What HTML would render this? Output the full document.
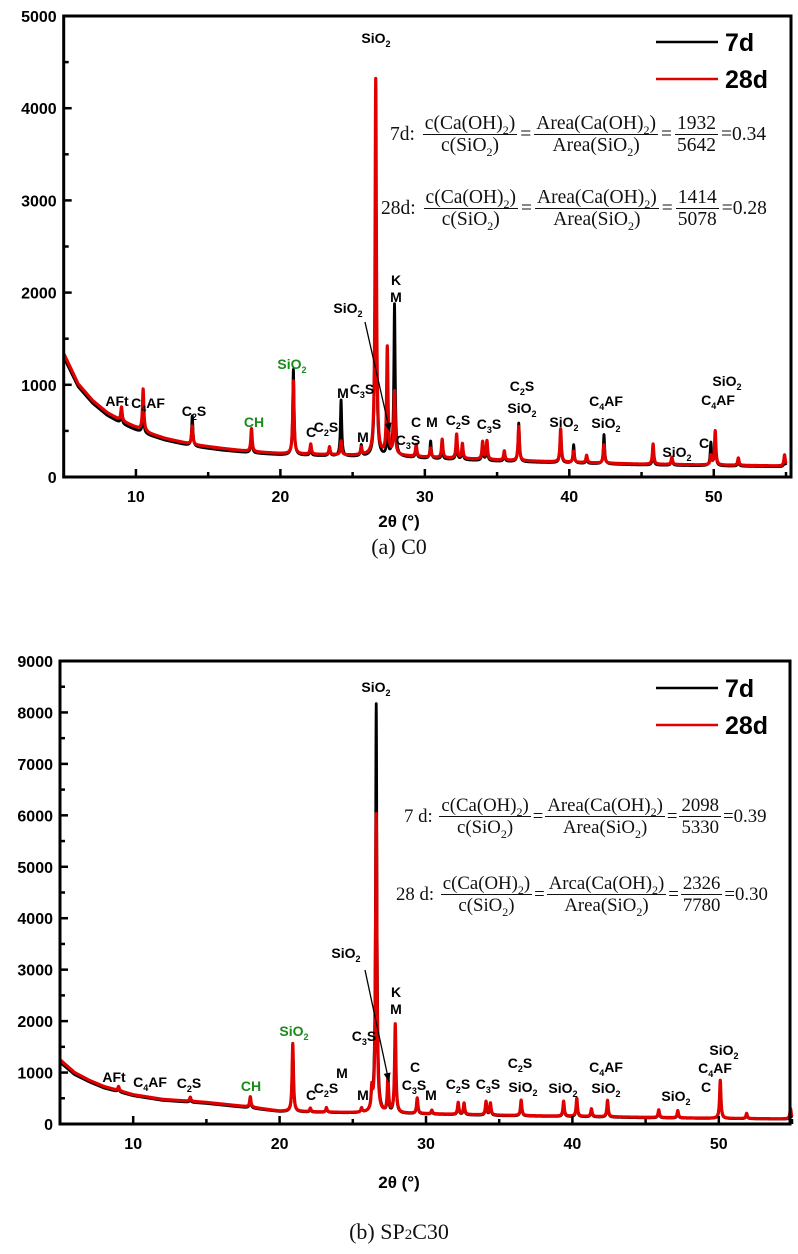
<!DOCTYPE html>
<html><head><meta charset="utf-8"><style>
html,body{margin:0;padding:0;background:#fff;}
#wrap{position:relative;width:798px;height:1254px;overflow:hidden;background:#fff;}
svg{position:absolute;left:0;top:0;}
.eq{position:absolute;font-family:"Liberation Serif",serif;font-size:19.5px;color:#111;display:flex;align-items:center;white-space:nowrap;}
.eq.b{font-size:18.8px;}
.fr{display:inline-flex;flex-direction:column;align-items:center;margin:0 3px;}
.eq.b .fr{margin:0 2px;}
.fr .n{border-bottom:1.4px solid #111;padding:0 2px;line-height:20px;}
.fr .d{line-height:21px;padding:0 2px;}
sub{font-size:12px;line-height:0;}
.cap{position:absolute;left:0;width:798px;text-align:center;font-family:"Liberation Serif",serif;font-size:22px;color:#111;}
</style></head><body>
<div id="wrap">
<svg id="svg" width="798" height="1254"></svg>

<div class="eq" style="left:390px;top:114px">7d:&nbsp;<span class="fr"><span class="n">c(Ca(OH)<sub>2</sub>)</span><span class="d">c(SiO<sub>2</sub>)</span></span>=<span class="fr"><span class="n">Area(Ca(OH)<sub>2</sub>)</span><span class="d">Area(SiO<sub>2</sub>)</span></span>=<span class="fr"><span class="n">1932</span><span class="d">5642</span></span>=0.34</div>
<div class="eq" style="left:381px;top:188px">28d:&nbsp;<span class="fr"><span class="n">c(Ca(OH)<sub>2</sub>)</span><span class="d">c(SiO<sub>2</sub>)</span></span>=<span class="fr"><span class="n">Area(Ca(OH)<sub>2</sub>)</span><span class="d">Area(SiO<sub>2</sub>)</span></span>=<span class="fr"><span class="n">1414</span><span class="d">5078</span></span>=0.28</div>
<div class="eq b" style="left:404px;top:796px">7 d:&nbsp;<span class="fr"><span class="n">c(Ca(OH)<sub>2</sub>)</span><span class="d">c(SiO<sub>2</sub>)</span></span>=<span class="fr"><span class="n">Area(Ca(OH)<sub>2</sub>)</span><span class="d">Area(SiO<sub>2</sub>)</span></span>=<span class="fr"><span class="n">2098</span><span class="d">5330</span></span>=0.39</div>
<div class="eq b" style="left:396px;top:874px">28 d:&nbsp;<span class="fr"><span class="n">c(Ca(OH)<sub>2</sub>)</span><span class="d">c(SiO<sub>2</sub>)</span></span>=<span class="fr"><span class="n">Arca(Ca(OH)<sub>2</sub>)</span><span class="d">Area(SiO<sub>2</sub>)</span></span>=<span class="fr"><span class="n">2326</span><span class="d">7780</span></span>=0.30</div>

<div class="cap" style="top:534px">(a) C0</div>
<div class="cap" style="top:1219px">(b) SP<span style="font-size:15px">2</span>C30</div>
</div>
<script>
// ---- Chart A (C0) data ----
const baseAx = [5,6,7,8,9,10,11,12,14,16,18,20,25,28,30,35,40,45,50,55];
const baseA7 = [1300,980,800,670,580,510,450,400,330,290,260,240,220,220,200,170,150,130,120,110];
const baseA28 = [1340,1010,830,700,610,540,470,420,350,310,275,255,235,235,215,185,160,140,130,120];
const peakApos = [9.0,10.5,13.9,18.0,20.9,22.1,23.4,24.2,25.6,26.6,27.4,27.9,29.4,30.4,31.2,32.2,32.6,34.0,34.3,35.5,36.5,39.4,40.3,41.2,42.4,45.8,47.1,49.8,50.1,51.7,54.9];
const peakA7 = [120,250,330,200,930,80,100,610,120,3330,300,1650,120,190,120,200,130,150,160,80,420,330,200,60,320,150,80,250,280,60,80];
const peakA28 = [150,450,200,250,790,110,80,150,80,4080,1160,680,130,100,200,260,160,190,200,100,370,360,120,80,200,220,80,100,370,80,120];
const ticksAy = [0,1000,2000,3000,4000,5000];
// ---- Chart B (SP2C30) data ----
const baseBx = [5,6,7,8,10,12,15,18,20,25,28,30,35,40,45,50,55];
const baseB7 = [1200,960,820,700,550,460,400,310,240,210,200,190,160,140,120,105,95];
const baseB28 = [1250,1000,850,730,570,480,420,330,250,220,210,200,170,150,130,110,100];
const peakBpos = [9.0,13.9,18.0,20.9,22.1,23.2,25.6,26.3,26.6,27.4,27.9,29.4,30.4,32.2,32.6,34.1,34.4,36.5,39.4,40.3,41.3,42.4,45.9,47.2,50.1,51.9,54.9];
const peakB7 = [80,60,180,1260,60,100,80,300,7950,450,1520,280,60,200,180,220,200,280,250,300,130,280,130,110,650,80,100];
const peakB28 = [80,80,200,1320,70,80,80,400,5800,670,1720,300,70,230,220,260,230,300,290,350,150,320,150,140,740,100,200];
const ticksBy = [0,1000,2000,3000,4000,5000,6000,7000,8000,9000];
const ticksX = [10,20,30,40,50];

const NS='http://www.w3.org/2000/svg';
const svg=document.getElementById('svg');
function mk(tag,attrs,parent){const e=document.createElementNS(NS,tag);for(const k in attrs)e.setAttribute(k,attrs[k]);(parent||svg).appendChild(e);return e;}
function interp(xs,ys,x){if(x<=xs[0])return ys[0];for(let i=1;i<xs.length;i++){if(x<=xs[i]){const t=(x-xs[i-1])/(xs[i]-xs[i-1]);return ys[i-1]+t*(ys[i]-ys[i-1]);}}return ys[ys.length-1];}

function chart(cfg){
  const g=mk('g',{});
  
  
  const X=v=>cfg.x0+(v-5)*(cfg.x1-cfg.x0)/50;
  const Y=v=>cfg.yb-v*(cfg.yb-cfg.yt)/cfg.ymax;
  [[cfg.b7,cfg.p7,'#000','series-7d',2.8],[cfg.b28,cfg.p28,'#e00000','series-28d',3.2]].forEach(s=>{
    let d='';
    for(let x=5;x<=55.0001;x+=0.01){
      let v=interp(cfg.bx,s[0],x);
      for(let i=0;i<cfg.pos.length;i++){const u=(x-cfg.pos[i])/0.055;v+=s[1][i]/(1+u*u);}
      d+=(d?'L':'M')+X(x).toFixed(2)+','+Y(v).toFixed(2);
    }
    const p=mk('path',{d:d,fill:'none',stroke:s[2],'stroke-width':s[4],'stroke-linejoin':'round'},g);
    
    
  });
  const fr=mk('rect',{x:cfg.x0,y:cfg.yt,width:cfg.xr-cfg.x0,height:cfg.yb-cfg.yt,fill:'none',stroke:'#000','stroke-width':3},g);
  
  
  cfg.yt2.forEach((t,i)=>{
    const y=Y(t);
    mk('line',{x1:cfg.x0,x2:cfg.x0+8,y1:y,y2:y,stroke:'#000','stroke-width':2.5},g);
    if(i<cfg.yt2.length-1){const ym=Y(t+(cfg.yt2[1]-cfg.yt2[0])/2);mk('line',{x1:cfg.x0,x2:cfg.x0+5,y1:ym,y2:ym,stroke:'#000','stroke-width':2.5},g);}
    const tx=mk('text',{x:cfg.x0-7,y:y+6,'text-anchor':'end','font-family':'Liberation Sans, sans-serif','font-weight':'bold','font-size':16},g);
    tx.textContent=t;
    
    
  });
  ticksX.forEach(t=>{
    const x=X(t);
    mk('line',{x1:x,x2:x,y1:cfg.yb,y2:cfg.yb-8,stroke:'#000','stroke-width':2.5},g);
    const xm=X(t+5);mk('line',{x1:xm,x2:xm,y1:cfg.yb,y2:cfg.yb-5,stroke:'#000','stroke-width':2.5},g);
    const tx=mk('text',{x:x,y:cfg.yb+25,'text-anchor':'middle','font-family':'Liberation Sans, sans-serif','font-weight':'bold','font-size':16},g);
    tx.textContent=t;
    
    
  });
  const xt=mk('text',{x:399,y:cfg.yb+cfg.titleOff,'text-anchor':'middle','font-family':'Liberation Sans, sans-serif','font-weight':'bold','font-size':17},g);
  xt.textContent='2θ (°)';
  
  
  [['7d','#000',cfg.lg[0]],['28d','#e00000',cfg.lg[1]]].forEach(l=>{
    mk('line',{x1:656,x2:718,y1:l[2],y2:l[2],stroke:l[1],'stroke-width':2.5},g);
    const t=mk('text',{x:725,y:l[2]+9,'font-family':'Liberation Sans, sans-serif','font-weight':'bold','font-size':25},g);
    t.textContent=l[0];
    
    
  });
  cfg.labels.forEach(L=>{
    const t=mk('text',{x:L[0],y:L[1]+5,'text-anchor':'middle','font-family':'Liberation Sans, sans-serif','font-weight':'bold','font-size':14,fill:L[3]?'#1a8a1a':'#000'},g);
    const parts=L[2].split('_');
    parts.forEach((p,i)=>{
      if(i===0){if(p){const s=mk('tspan',{},t);s.textContent=p;}return;}
      const sub=mk('tspan',{'font-size':9,dy:4},t);sub.textContent=p[0];
      if(p.length>1){const r=mk('tspan',{dy:-4},t);r.textContent=p.slice(1);}
    });
    
    
  });
  const a=cfg.arrow;
  mk('line',{x1:a[0],y1:a[1],x2:a[2],y2:a[3],stroke:'#000','stroke-width':1.3},g);
  const ang=Math.atan2(a[3]-a[1],a[2]-a[0]);
  const hx=a[2],hy=a[3];
  mk('path',{d:`M${hx},${hy}L${hx-9*Math.cos(ang)+3.5*Math.sin(ang)},${hy-9*Math.sin(ang)-3.5*Math.cos(ang)}L${hx-9*Math.cos(ang)-3.5*Math.sin(ang)},${hy-9*Math.sin(ang)+3.5*Math.cos(ang)}Z`,fill:'#000'},g);
}

chart({name:'chart-c0',x0:63.7,x1:786,xr:791,yt:16,yb:477,ymax:5000,titleOff:50,bx:baseAx,b7:baseA7,b28:baseA28,pos:peakApos,p7:peakA7,p28:peakA28,yt2:ticksAy,lg:[42,79],
 arrow:[365,322,390,432],
 labels:[[376,38,'SiO_2'],[117,401,'AFt'],[148,403,'C_4AF'],[194,411,'C_2S'],[254,422,'CH',1],[292,364,'SiO_2',1],
 [311,432,'C'],[326,427,'C_2S'],[343,393,'M'],[362,389,'C_3S'],[363,437,'M'],[348,308,'SiO_2'],
 [396,280,'K'],[396,297,'M'],[416,422,'C'],[432,422,'M'],[408,440,'C_3S'],[458,420,'C_2S'],[489,424,'C_3S'],
 [522,386,'C_2S'],[522,408,'SiO_2'],[564,422,'SiO_2'],[606,401,'C_4AF'],[606,423,'SiO_2'],[677,452,'SiO_2'],[704,443,'C'],[727,381,'SiO_2'],[718,400,'C_4AF']]});

chart({name:'chart-sp2c30',x0:60,x1:792,xr:790,yt:661,yb:1124,ymax:9000,titleOff:64,bx:baseBx,b7:baseB7,b28:baseB28,pos:peakBpos,p7:peakB7,p28:peakB28,yt2:ticksBy,lg:[688,725],
 arrow:[365,970,389,1082],
 labels:[[376,687,'SiO_2'],[114,1077,'AFt'],[150,1082,'C_4AF'],[189,1083,'C_2S'],[251,1086,'CH',1],[294,1031,'SiO_2',1],
 [311,1095,'C'],[326,1088,'C_2S'],[342,1073,'M'],[364,1036,'C_3S'],[363,1095,'M'],[346,953,'SiO_2'],
 [396,992,'K'],[396,1009,'M'],[415,1067,'C'],[414,1085,'C_3S'],[431,1095,'M'],[458,1084,'C_2S'],[488,1084,'C_3S'],
 [520,1063,'C_2S'],[523,1087,'SiO_2'],[563,1088,'SiO_2'],[606,1067,'C_4AF'],[606,1088,'SiO_2'],[676,1096,'SiO_2'],[706,1087,'C'],[724,1050,'SiO_2'],[715,1068,'C_4AF']]});
</script>
</body></html>
